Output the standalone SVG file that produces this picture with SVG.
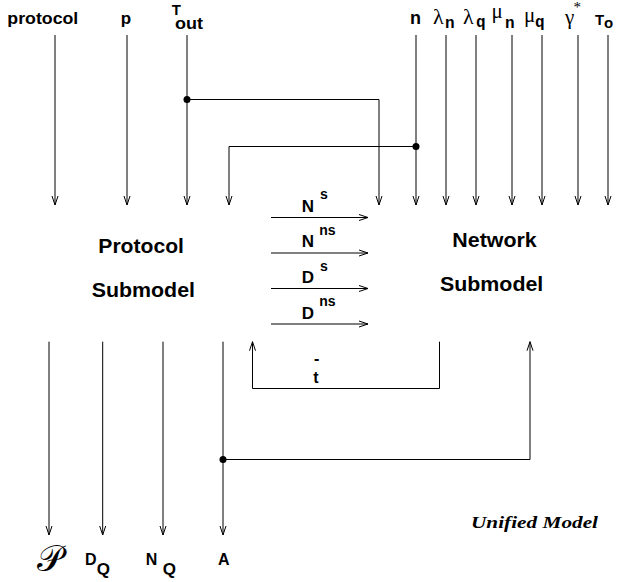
<svg xmlns="http://www.w3.org/2000/svg" width="620" height="582" viewBox="0 0 620 582">
<defs>
<style>
.ln{fill:none;stroke:#000;stroke-width:1}
.arr{marker-end:url(#ah)}
.b{font-family:"Liberation Sans",Arial,sans-serif;font-weight:bold;fill:#000}
.g{font-family:"Liberation Serif","Times New Roman",serif;fill:#000}
.m{font-family:"Liberation Mono","Courier New",monospace;font-weight:bold;fill:#000}
.it{font-family:"Liberation Serif","Times New Roman",serif;font-style:italic;font-weight:bold;fill:#000}
.dot{fill:#000}
</style>
<marker id="ah" markerUnits="userSpaceOnUse" markerWidth="12" markerHeight="8" refX="10" refY="4" orient="auto"><path d="M1,1 L10,4 L1,7" fill="none" stroke="#000" stroke-width="1"/></marker>
</defs>
<rect width="620" height="582" fill="#fff"/>
<g id="connectors">
<path class="ln arr" d="M55,35 V205"/>
<path class="ln arr" d="M127,35 V205"/>
<path class="ln arr" d="M187,35 V205"/>
<path class="ln arr" d="M416,35 V205"/>
<path class="ln arr" d="M446,35 V205"/>
<path class="ln arr" d="M476,35 V205"/>
<path class="ln arr" d="M512,35 V205"/>
<path class="ln arr" d="M542,35 V205"/>
<path class="ln arr" d="M578,35 V205"/>
<path class="ln arr" d="M608,35 V205"/>
<path class="ln arr" d="M187,99.5 H379 V205"/>
<path class="ln arr" d="M416,146.5 H229 V205"/>
<path class="ln arr" d="M271,217.5 H368"/>
<path class="ln arr" d="M271,253 H368"/>
<path class="ln arr" d="M271,288.5 H368"/>
<path class="ln arr" d="M271,324 H368"/>
<path class="ln arr" d="M439.5,341.7 V388.5 H252.5 V341.7"/>
<path class="ln arr" d="M49,341.7 V535"/>
<path class="ln arr" d="M102.7,341.7 V535"/>
<path class="ln arr" d="M163,341.7 V535"/>
<path class="ln arr" d="M223,341.7 V535"/>
<path class="ln arr" d="M223,459.5 H530 V341.7"/>
<circle class="dot" cx="187" cy="99.5" r="3.5"/>
<circle class="dot" cx="416" cy="146.5" r="3.5"/>
<circle class="dot" cx="223" cy="459.5" r="3.5"/>
</g>
<g id="protocol-submodel">
<text class="b" x="98.3" y="253.3" font-size="21" textLength="85.7" lengthAdjust="spacingAndGlyphs">Protocol</text>
<text class="b" x="91.7" y="297.3" font-size="21" textLength="103.3" lengthAdjust="spacingAndGlyphs">Submodel</text>
</g>
<g id="network-submodel">
<text class="b" x="452.3" y="246.7" font-size="21" textLength="84.4" lengthAdjust="spacingAndGlyphs">Network</text>
<text class="b" x="440" y="291" font-size="21" textLength="103.3" lengthAdjust="spacingAndGlyphs">Submodel</text>
</g>
<g id="inputs">
<text class="b" x="7.3" y="24.3" font-size="16" textLength="71" lengthAdjust="spacingAndGlyphs">protocol</text>
<text class="b" x="120.7" y="24.3" font-size="17">p</text>
<text class="b" x="171.7" y="15" font-size="15">T</text>
<text class="b" x="175" y="28.5" font-size="16" textLength="28" lengthAdjust="spacingAndGlyphs">out</text>
<text class="b" x="410" y="24.3" font-size="18">n</text>
<text class="g" x="433" y="24.3" font-size="22">λ</text>
<text class="m" x="445" y="28.3" font-size="16">n</text>
<text class="g" x="463" y="24.3" font-size="22">λ</text>
<text class="m" x="476" y="26.5" font-size="16">q</text>
<text class="g" x="491.5" y="18" font-size="21">μ</text>
<text class="m" x="505" y="28.3" font-size="16">n</text>
<text class="g" x="524" y="22" font-size="21">μ</text>
<text class="m" x="535" y="26.5" font-size="16">q</text>
<text class="g" x="565" y="24" font-size="21">γ</text>
<text class="g" x="573.5" y="11.5" font-size="15">*</text>
<text class="b" x="595" y="25" font-size="15">T</text>
<text class="b" x="604" y="28.3" font-size="15">o</text>
</g>
<g id="flows">
<text class="b" x="301.7" y="211.7" font-size="17">N</text>
<text class="b" x="320" y="199.3" font-size="14">s</text>
<text class="b" x="301.7" y="247.3" font-size="17">N</text>
<text class="b" x="319.3" y="235" font-size="14">ns</text>
<text class="b" x="301.7" y="283.3" font-size="17">D</text>
<text class="b" x="320" y="270.7" font-size="14">s</text>
<text class="b" x="301.7" y="319.3" font-size="17">D</text>
<text class="b" x="319.3" y="306" font-size="14">ns</text>
<text class="b" x="314" y="364" font-size="16">-</text>
<text class="b" x="313.3" y="383.3" font-size="16">t</text>
</g>
<g id="outputs">
<text x="37" y="571" font-size="36" style="font-family:'DejaVu Sans','DejaVu Serif',serif">𝒫</text>
<text class="b" x="85" y="565" font-size="16">D</text>
<text class="b" x="96.7" y="575" font-size="17">Q</text>
<text class="b" x="145.7" y="565" font-size="16">N</text>
<text class="b" x="162.7" y="575" font-size="17">Q</text>
<text class="b" x="218" y="565" font-size="16">A</text>
</g>
<g id="caption">
<text class="it" x="471" y="528" font-size="16" textLength="127" lengthAdjust="spacingAndGlyphs">Unified Model</text>
</g>
</svg>
